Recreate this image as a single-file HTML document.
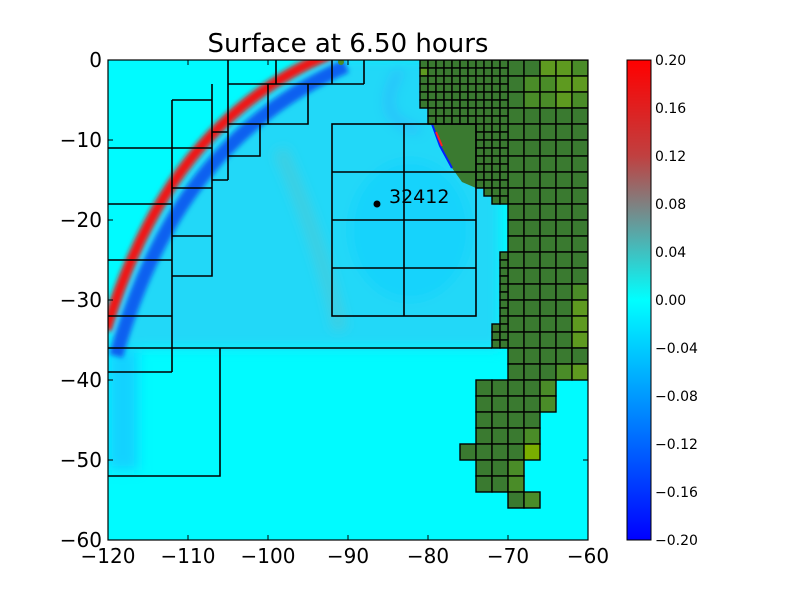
<!DOCTYPE html>
<html><head><meta charset="utf-8"><style>
body{margin:0;background:#fff;}
svg text{font-family:"DejaVu Sans","Liberation Sans",sans-serif;}
</style></head><body>
<svg id="s" width="800" height="600" xmlns="http://www.w3.org/2000/svg">
<defs>
<linearGradient id="cb" x1="0" y1="0" x2="0" y2="1">
<stop offset="0" stop-color="#ff0000"/><stop offset="0.2" stop-color="#c04040"/>
<stop offset="0.3" stop-color="#808080"/><stop offset="0.4" stop-color="#40c0c0"/>
<stop offset="0.5" stop-color="#00ffff"/><stop offset="0.75" stop-color="#0080ff"/>
<stop offset="1" stop-color="#0000ff"/></linearGradient>
<filter id="bl"><feGaussianBlur stdDeviation="2.5"/></filter>
<filter id="bl2"><feGaussianBlur stdDeviation="6"/></filter>
<clipPath id="ax"><rect x="108" y="60" width="480" height="480"/></clipPath>
</defs>
<g clip-path="url(#ax)">
<rect x="108" y="60" width="480" height="480" fill="#00fbff"/>
<g filter="url(#bl2)">
<path d="M108,348 L108,340 C140,222 200,112 330,58 L500,58 L500,348 Z" fill="#22d8f8"/>
<path d="M280,150 Q320,240 340,330" stroke="#50c8d0" stroke-width="14" fill="none" opacity="0.6"/>
<ellipse cx="410" cy="230" rx="60" ry="70" fill="#10d0ff" opacity="0.6"/>
<rect x="108" y="350" width="30" height="120" fill="#20c0ff" opacity="0.7"/>
<path d="M400,70 Q370,120 420,130" stroke="#30a8ff" stroke-width="8" fill="none" opacity="0.6"/>
</g>
<g filter="url(#bl)">
<path d="M116,356 C150,236 212,126 346,66" stroke="#1060f0" stroke-width="14" fill="none"/>
<path d="M106,330 C140,218 200,108 330,54" stroke="#f01818" stroke-width="11" fill="none"/>
</g>
<path d="M432,124 L476,124 L476,188 L462,182 L452,168 L440,146 Z" fill="#3a7a30"/>
<path d="M432,124 L440,146 L452,168" stroke="#0020ff" stroke-width="2" fill="none"/>
<path d="M436,132 L442,146" stroke="#ff2020" stroke-width="2" fill="none"/>
<circle cx="341" cy="62" r="3" fill="#4a8c28"/>
<g id="land" stroke="#000" stroke-width="1.4"></g>
<g stroke="#000" stroke-width="1.6" fill="none">
<path d="M108,348 H492 M108,372 H172 M108,148 H172 M108,204 H172 M108,260 H172 M108,316 H172 M172,100 V372 M172,100 H212 V276 H172 M172,148 H212 M172,188 H212 M172,236 H212 M212,84 V180 H228 M212,132 H228 M228,60 V180 M228,84 H364 M276,60 V84 M332,60 V84 M364,60 V84 M228,124 H308 V84 M268,84 V124 M228,156 H260 V124 M108,476 H220 V348"/>
<rect x="332" y="124" width="144" height="192"/>
<path d="M404,124 V316 M332,172 H476 M332,220 H476 M332,268 H476"/>
</g>
</g>
<rect x="108" y="60" width="480" height="480" fill="none" stroke="#000" stroke-width="1.2"/>
<circle cx="377" cy="204" r="3.5" fill="#000"/>
<text x="389" y="203" font-size="19">32412</text>
<text x="348" y="52" font-size="26" text-anchor="middle">Surface at 6.50 hours</text>
<g id="ticks" stroke="#000" stroke-width="1"></g>
<g id="tl" font-size="20"></g>
<rect x="627" y="60" width="24" height="480" fill="url(#cb)" stroke="#000" stroke-width="1"/>
<g id="cbt" font-size="14"></g>
</svg>
<script>
var NS="http://www.w3.org/2000/svg";
function el(p,t,a,txt){var e=document.createElementNS(NS,t);for(var k in a)e.setAttribute(k,a[k]);if(txt!=null)e.textContent=txt;document.getElementById(p).appendChild(e);}
var dk="#3a7a30",md="#4a8c28",yg="#5e9a20",yy="#7aae00";
function c(x,y,s,f){el("land","rect",{x:x,y:y,width:s,height:s,fill:f||dk});}
var light={"540,60":yg,"556,60":yg,"572,60":md,"524,76":md,"540,76":md,"556,76":yg,"572,76":yg,"540,92":md,"556,92":yg,"572,92":md,"524,92":md,
"572,284":md,"572,300":yg,"572,316":yg,"572,332":yg,"572,364":yg,"556,364":md};
for(var y=60;y<380;y+=16)for(var x=508;x<588;x+=16)c(x,y,16,light[x+","+y]);
var rows=[[380,476,556,{"540":md}],[396,476,556,{"540":md}],[412,476,540,{}],[428,476,540,{"524":md}],[444,460,540,{"524":yy}],[460,476,524,{"508":md}],[476,476,524,{"508":md}],[492,508,540,{"524":md}]];
rows.forEach(function(r){for(var x=r[1];x<r[2];x+=16)c(x,r[0],16,r[3][x]);});
function sm(x0,x1,y0,y1){for(var y=y0;y<y1;y+=8)for(var x=x0;x<x1;x+=8)c(x,y,8,(x==420&&y==68)?yg:dk);}
sm(420,508,60,108);sm(428,508,108,124);sm(476,508,124,188);sm(484,508,188,196);sm(492,508,196,204);
sm(500,508,252,324);sm(492,508,324,348);
for(var i=0;i<=6;i++){var x=108+80*i,y=60+80*i;
el("ticks","line",{x1:x,y1:540,x2:x,y2:535});el("ticks","line",{x1:x,y1:60,x2:x,y2:65});
el("ticks","line",{x1:108,y1:y,x2:113,y2:y});el("ticks","line",{x1:588,y1:y,x2:583,y2:y});
el("tl","text",{x:x,y:563,"text-anchor":"middle"},"\u2212"+(120-10*i));
el("tl","text",{x:102,y:y+7,"text-anchor":"end"},i==0?"0":"\u2212"+(10*i));}
var lab=["0.20","0.16","0.12","0.08","0.04","0.00","\u22120.04","\u22120.08","\u22120.12","\u22120.16","\u22120.20"];
for(var i=0;i<=10;i++){var y=60+48*i;el("ticks","line",{x1:647,y1:y,x2:651,y2:y});
el("cbt","text",{x:655,y:y+5},lab[i]);}
</script>
</body></html>
